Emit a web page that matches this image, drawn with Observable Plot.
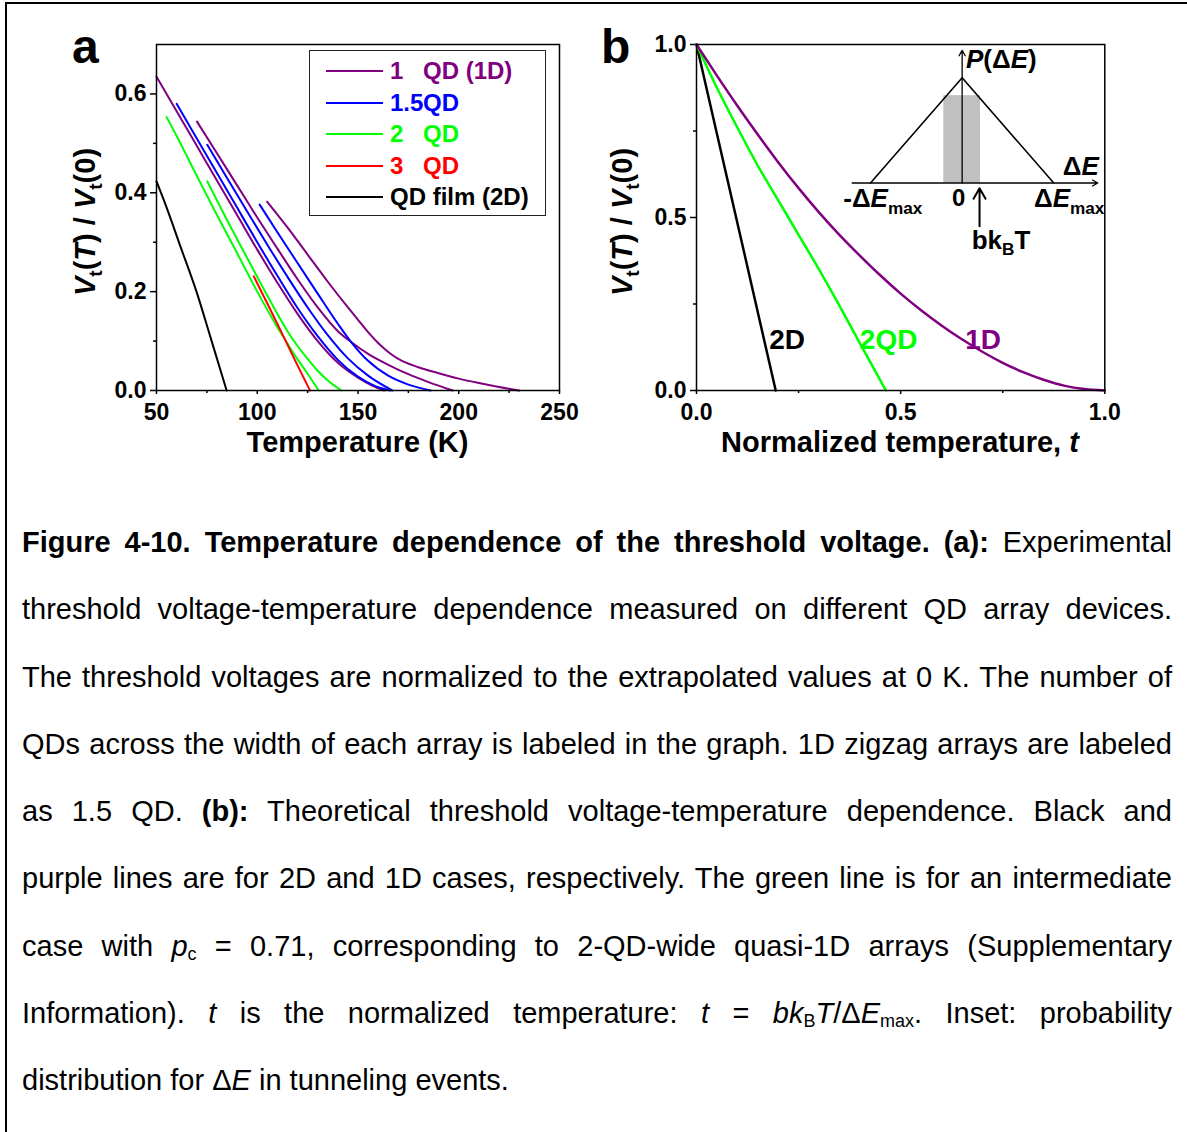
<!DOCTYPE html>
<html>
<head>
<meta charset="utf-8">
<script src="https://cdn.jsdelivr.net/npm/d3@7"></script>
<script src="https://cdn.jsdelivr.net/npm/@observablehq/plot@0.6"></script>
<style>
  html, body { margin: 0; padding: 0; background: #fff; }
  body { width: 1187px; height: 1132px; position: relative; overflow: hidden;
         font-family: "Liberation Sans", Arial, sans-serif; color: #000; }
  #border { position: absolute; left: 5px; top: 2px; width: 1300px; height: 1300px;
            border-left: 2px solid #000; border-top: 2px solid #000; }
  .panel { position: absolute; top: 0; }
  #panelA { left: 0; }
  #panelB { left: 590px; }
  #inset { position: absolute; left: 840px; top: 40px; }
  #legend { position: absolute; left: 309px; top: 50px; width: 235px; height: 164px;
            border: 1.5px solid #222; background: #fff; }
  #legend .row { position: absolute; left: 16px; height: 30px; display: flex; align-items: center;
                 font-weight: bold; font-size: 24px; white-space: pre; }
  #legend .swatch { width: 57px; height: 2px; margin-right: 7px; }
  #legend .num { display: inline-block; width: 33px; }
  #caption { position: absolute; left: 22px; top: 509px; width: 1150px; font-size: 29px; line-height: 67.3px; }
  #caption div { text-align: justify; text-align-last: justify; height: 67.3px; }
  #caption div.last { text-align-last: left; }
  #caption sub { font-size: 0.62em; vertical-align: baseline; position: relative; top: 0.22em; }
</style>
</head>
<body>
<div id="border"></div>
<div id="panelA" class="panel"></div>
<div id="legend"></div>
<div id="panelB" class="panel"></div>
<div id="inset"></div>
<div id="caption">
  <div><b>Figure 4-10. Temperature dependence of the threshold voltage. (a):</b> Experimental</div>
  <div>threshold voltage-temperature dependence measured on different QD array devices.</div>
  <div>The threshold voltages are normalized to the extrapolated values at 0 K. The number of</div>
  <div>QDs across the width of each array is labeled in the graph. 1D zigzag arrays are labeled</div>
  <div>as 1.5 QD. <b>(b):</b> Theoretical threshold voltage-temperature dependence. Black and</div>
  <div>purple lines are for 2D and 1D cases, respectively. The green line is for an intermediate</div>
  <div>case with <i>p</i><sub>c</sub> = 0.71, corresponding to 2-QD-wide quasi-1D arrays (Supplementary</div>
  <div>Information). <i>t</i> is the normalized temperature: <i>t</i> = <i>bk</i><sub>B</sub><i>T</i>/Δ<i>E</i><sub>max</sub>. Inset: probability</div>
  <div class="last">distribution for Δ<i>E</i> in tunneling events.</div>
</div>
<script>
// ---------- Panel a: measured Vt(T)/Vt(0) versus temperature (K) ----------
// each device: [temperature, normalized threshold voltage]
const qd1A = [[50,0.635],[60,0.565],[70,0.495],[80,0.425],[90,0.355],[100,0.285],[110,0.218],[120,0.155],[130,0.1],[140,0.056],[150,0.026],[157,0.01],[163,0]];
const qd1B = [[70.1,0.544],[80,0.48],[90,0.415],[100,0.35],[110,0.287],[120,0.225],[130,0.168],[140,0.12],[146.6,0.098],[155,0.074],[165,0.052],[175,0.033],[185,0.017],[197,0]];
const qd1C = [[104.9,0.382],[115,0.33],[125,0.275],[135,0.22],[145,0.168],[150,0.143],[155,0.118],[160,0.096],[165,0.078],[170,0.064],[180,0.047],[190,0.035],[200,0.024],[210,0.015],[220,0.007],[230,0]];
const qd15A = [[60,0.58],[70,0.51],[80,0.44],[90,0.37],[100,0.3],[110,0.232],[120,0.167],[130,0.11],[140,0.062],[150,0.028],[158,0.01],[166,0]];
const qd15B = [[75.2,0.497],[85,0.43],[95,0.362],[105,0.295],[115,0.23],[125,0.168],[135,0.112],[145,0.065],[155,0.03],[167,0]];
const qd15C = [[101.2,0.376],[110,0.32],[120,0.258],[130,0.196],[140,0.135],[146.6,0.098],[155,0.06],[165,0.03],[175,0.012],[186,0]];
const qd2A = [[55,0.553],[60,0.515],[65,0.475],[71.4,0.423],[80,0.355],[90,0.278],[100,0.2],[110,0.128],[115,0.095],[120,0.063],[125,0.034],[130.5,0]];
const qd2B = [[75.2,0.423],[85,0.345],[95,0.268],[105,0.192],[115,0.12],[120,0.09],[125,0.064],[130,0.04],[135,0.02],[141.7,0]];
const qd3 = [[98.3,0.231],[105,0.176],[112,0.118],[119,0.059],[126.2,0]];
const film2D = [[50,0.423],[54.3,0.378],[62,0.29],[70,0.198],[77,0.105],[84.8,0]];

const tempTicks = [50, 100, 150, 200, 250];
const tempMinorTicks = [75, 125, 175, 225];
const ratioTicksA = [0, 0.2, 0.4, 0.6];
const ratioMinorTicksA = [0.1, 0.3, 0.5];

const legendNumbers = ["1", "1.5", "2", "3", ""];
const legendNames = ["QD (1D)", "QD", "QD", "QD", "QD film (2D)"];

// ---------- Panel b: calculated Vt(t)/Vt(0) versus normalized temperature ----------
const tOneD = [0,0.05,0.1,0.15,0.2,0.25,0.3,0.35,0.4,0.45,0.5,0.55,0.6,0.65,0.7,0.75,0.8,0.85,0.9,0.95,1.0];
const vOneD = [1,0.91,0.823,0.74,0.66,0.585,0.515,0.45,0.39,0.333,0.28,0.232,0.188,0.148,0.112,0.08,0.053,0.031,0.014,0.004,0];
const tTwoQD = [0,0.05,0.1,0.15,0.2,0.25,0.3,0.35,0.4,0.464];
const vTwoQD = [1,0.875,0.76,0.65,0.55,0.45,0.35,0.245,0.137,0];
const tTwoD = [0,0.05,0.1,0.15,0.194];
const vTwoD = [1,0.742,0.485,0.227,0];

const curveLabels = ["2D", "2QD", "1D"];
const curveLabelT = [0.178, 0.40, 0.658];
const curveLabelV = [0.145, 0.145, 0.145];

const unitTicks = [0, 0.5, 1];
const unitMinorTicks = [0.25, 0.75];

// ---------- Inset: triangular distribution P(ΔE) ----------
const triangleE = [-1, 0, 1];
const triangleP = [0, 1, 0];
const thermalBand = [{x1: -0.2, x2: 0.2, y1: 0, y2: 0.83}];
const insetAxes = [{x1: -1.2, y1: 0, x2: 1.48, y2: 0}, {x1: 0, y1: 0, x2: 0, y2: 1.26}];
const thermalArrow = [{x1: 0.19, y1: -0.41, x2: 0.19, y2: -0.05}];

// ---------- drawing ----------
const FONT = "'Liberation Sans', Arial, Helvetica, sans-serif";
const PURPLE = "#800080", BLUE = "#0000ff", GREEN = "#00ff00", RED = "#ff0000", BLACK = "#000000";
const fmt1 = d3.format(".1f");
const asRows = (pairs) => pairs.map(([x, y]) => ({x, y}));
const zipRows = (xs, ys) => xs.map((x, i) => ({x, y: ys[i]}));

const baseStyle = {background: "transparent", fontFamily: FONT, fontSize: "23px",
                   fontWeight: "bold", color: "#000", overflow: "visible"};

// text with italic / subscript runs; parts = [[text, flags]], flags: "i" italic, "s" subscript
function richText(sel, parts, size) {
  let shifted = false;
  for (const [txt, flags = ""] of parts) {
    const ts = sel.append("tspan").text(txt);
    if (flags.includes("i")) ts.attr("font-style", "italic");
    if (flags.includes("s")) {
      ts.attr("font-size", size * 0.66);
      if (!shifted) { ts.attr("dy", size * 0.25); shifted = true; }
    } else if (shifted) {
      ts.attr("dy", -size * 0.25); shifted = false;
    }
  }
  return sel;
}
function addText(svg, x, y, parts, size, anchor = "middle", rotate = false) {
  const t = svg.append("text")
    .attr("font-family", FONT).attr("font-weight", "bold").attr("font-size", size)
    .attr("fill", "#000").attr("text-anchor", anchor);
  if (rotate) t.attr("transform", `translate(${x},${y}) rotate(-90)`);
  else t.attr("x", x).attr("y", y);
  return richText(t, parts, size);
}

// panel a
const seriesA = [
  [qd1A, PURPLE], [qd1B, PURPLE], [qd1C, PURPLE],
  [qd15A, BLUE], [qd15B, BLUE], [qd15C, BLUE],
  [qd2A, GREEN], [qd2B, GREEN], [qd3, RED], [film2D, BLACK]
];
const plotA = Plot.plot({
  width: 590, height: 470,
  marginLeft: 156, marginRight: 31, marginTop: 44, marginBottom: 80,
  x: {domain: [50, 250]},
  y: {domain: [0, 0.7]},
  style: baseStyle,
  marks: [
    Plot.axisX({ticks: tempTicks, tickSize: 4, tickPadding: 9, tickFormat: d => String(d), label: null, strokeWidth: 1.5}),
    Plot.axisX({ticks: tempMinorTicks, tickSize: 3, tickFormat: () => "", label: null, strokeWidth: 1.5}),
    Plot.axisY({ticks: ratioTicksA, tickSize: 6, tickPadding: 4, tickFormat: fmt1, label: null, strokeWidth: 1.5}),
    Plot.axisY({ticks: ratioMinorTicksA, tickSize: 3, tickFormat: () => "", label: null, strokeWidth: 1.5}),
    ...seriesA.map(([pts, color]) => Plot.line(asRows(pts), {x: "x", y: "y", stroke: color, strokeWidth: 2, curve: "monotone-x"})),
    Plot.frame({stroke: "#000", strokeWidth: 1.5})
  ]
});
document.getElementById("panelA").append(plotA);
{
  const svg = d3.select(plotA);
  addText(svg, 72, 63, [["a"]], 48, "start");
  addText(svg, 357.5, 452, [["Temperature (K)"]], 29);
  addText(svg, 95, 222, [["V", "i"], ["t", "s"], ["("], ["T", "i"], [") / "], ["V", "i"], ["t", "s"], ["(0)"]], 29, "middle", true);
}

// legend for panel a
{
  const colors = [PURPLE, BLUE, GREEN, RED, BLACK];
  const legend = d3.select("#legend");
  legendNames.forEach((name, i) => {
    const row = legend.append("div").attr("class", "row").style("top", `${5 + i * 31.5}px`).style("color", colors[i]);
    row.append("span").attr("class", "swatch").style("background", colors[i]);
    if (legendNumbers[i]) row.append("span").attr("class", "num").text(legendNumbers[i]);
    row.append("span").text(name);
  });
}

// panel b
const plotB = Plot.plot({
  width: 597, height: 470,
  marginLeft: 106, marginRight: 82.7, marginTop: 44, marginBottom: 80,
  x: {domain: [0, 1]},
  y: {domain: [0, 1]},
  style: baseStyle,
  marks: [
    Plot.axisX({ticks: unitTicks, tickSize: 4, tickPadding: 9, tickFormat: fmt1, label: null, strokeWidth: 1.5}),
    Plot.axisX({ticks: unitMinorTicks, tickSize: 3, tickFormat: () => "", label: null, strokeWidth: 1.5}),
    Plot.axisY({ticks: unitTicks, tickSize: 6, tickPadding: 4, tickFormat: fmt1, label: null, strokeWidth: 1.5}),
    Plot.axisY({ticks: unitMinorTicks, tickSize: 3, tickFormat: () => "", label: null, strokeWidth: 1.5}),
    Plot.line(zipRows(tTwoD, vTwoD), {x: "x", y: "y", stroke: BLACK, strokeWidth: 2.5}),
    Plot.line(zipRows(tTwoQD, vTwoQD), {x: "x", y: "y", stroke: GREEN, strokeWidth: 2.5, curve: "monotone-x"}),
    Plot.line(zipRows(tOneD, vOneD), {x: "x", y: "y", stroke: PURPLE, strokeWidth: 2.5, curve: "monotone-x"}),
    Plot.text(curveLabels.map((label, i) => ({label, t: curveLabelT[i], v: curveLabelV[i]})), {
      x: "t", y: "v", text: "label", textAnchor: "start", lineAnchor: "middle",
      fontSize: 28, fontWeight: "bold", fill: (d) => [BLACK, GREEN, PURPLE][curveLabels.indexOf(d.label)]
    }),
    Plot.frame({stroke: "#000", strokeWidth: 1.5})
  ]
});
document.getElementById("panelB").append(plotB);
{
  const svg = d3.select(plotB);
  addText(svg, 11, 63, [["b"]], 48, "start");
  addText(svg, 310, 452, [["Normalized temperature, "], ["t", "i"]], 29);
  addText(svg, 42, 222, [["V", "i"], ["t", "s"], ["("], ["T", "i"], [") / "], ["V", "i"], ["t", "s"], ["(0)"]], 29, "middle", true);
}

// inset drawn on its own small scales
const inset = Plot.plot({
  width: 270, height: 230,
  marginLeft: 11.67, marginRight: 10.9, marginTop: 5.74, marginBottom: 87.5,
  x: {domain: [-1.2, 1.5], axis: null},
  y: {domain: [0, 1.3], axis: null},
  style: {background: "transparent", overflow: "visible"},
  marks: [
    Plot.rect(thermalBand, {x1: "x1", x2: "x2", y1: "y1", y2: "y2", fill: "#c0c0c0"}),
    Plot.line(zipRows(triangleE, triangleP), {x: "x", y: "y", stroke: "#000", strokeWidth: 1.6}),
    Plot.arrow(insetAxes, {x1: "x1", y1: "y1", x2: "x2", y2: "y2", stroke: "#000", strokeWidth: 1.3, headLength: 7}),
    Plot.arrow(thermalArrow, {x1: "x1", y1: "y1", x2: "x2", y2: "y2", stroke: "#000", strokeWidth: 2, headLength: 9})
  ]
});
document.getElementById("inset").append(inset);
{
  const svg = d3.select(inset);
  const sx = inset.scale("x"), sy = inset.scale("y");
  const X = (v) => sx.apply(v), Y = (v) => sy.apply(v);
  addText(svg, X(0.047), Y(1.09), [["P", "i"], ["(Δ"], ["E", "i"], [")"]], 26, "start");
  addText(svg, X(1.497), Y(0.071), [["Δ"], ["E", "i"]], 26, "end");
  addText(svg, X(-1.292), Y(-0.233), [["-Δ"], ["E", "i"], ["max", "s"]], 26, "start");
  addText(svg, X(-0.031), Y(-0.22), [["0"]], 24, "middle");
  addText(svg, X(0.79), Y(-0.233), [["Δ"], ["E", "i"], ["max", "s"]], 26, "start");
  addText(svg, X(0.11), Y(-0.63), [["bk"], ["B", "s"], ["T"]], 26, "start");
}
</script>
</body>
</html>
